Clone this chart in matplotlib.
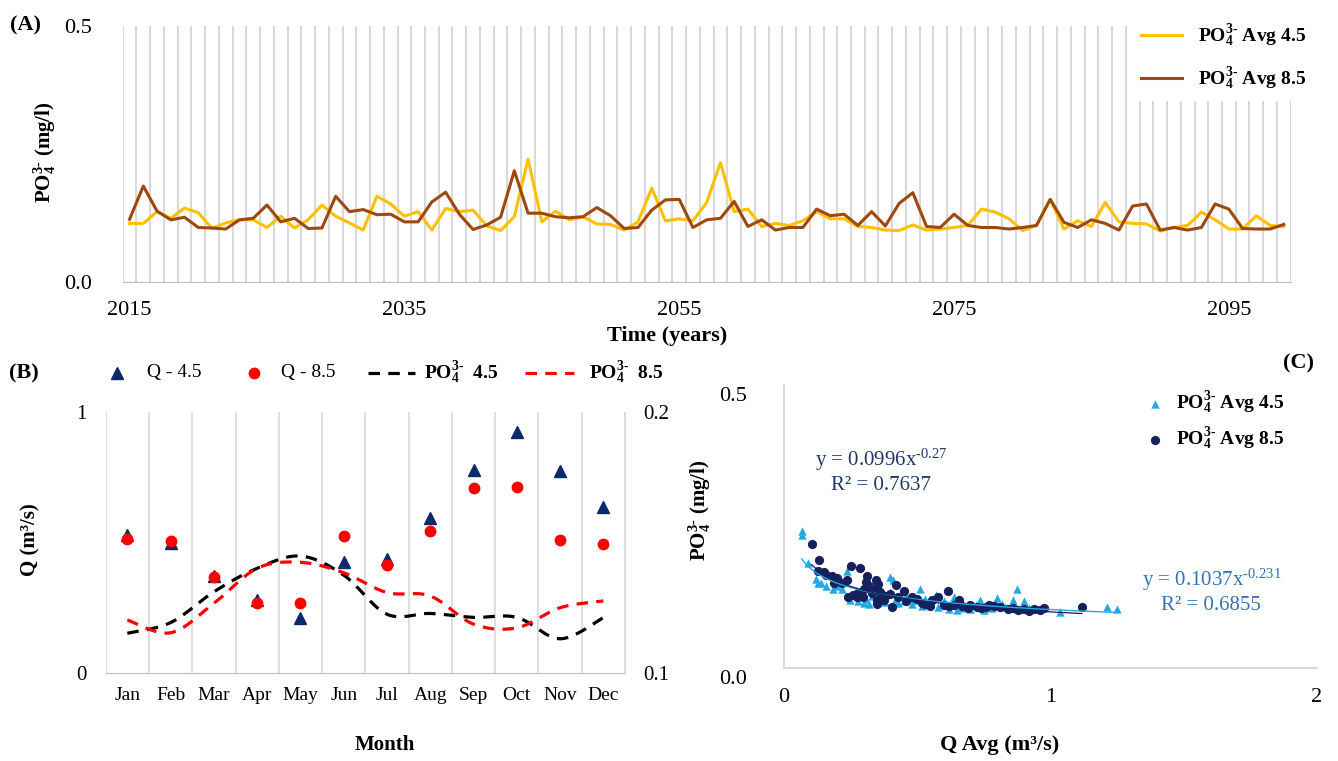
import numpy as np
import matplotlib
matplotlib.use("Agg")
import matplotlib.pyplot as plt
from matplotlib.lines import Line2D
from matplotlib.transforms import ScaledTranslation

plt.rcParams['font.family'] = ['Liberation Serif', 'DejaVu Serif']
plt.rcParams['mathtext.fontset'] = 'custom'
plt.rcParams['mathtext.rm'] = 'Liberation Serif'
plt.rcParams['mathtext.it'] = 'Liberation Serif:italic'
plt.rcParams['mathtext.bf'] = 'Liberation Serif:bold'

# ---------------- data ----------------
years = list(range(2015, 2100))
po4_avg_45 = [0.114, 0.114, 0.137, 0.124, 0.144, 0.135, 0.104, 0.115, 0.121, 0.121,
              0.106, 0.128, 0.105, 0.121, 0.150, 0.128, 0.115, 0.101, 0.167, 0.152,
              0.128, 0.137, 0.101, 0.143, 0.137, 0.140, 0.109, 0.100, 0.127, 0.240,
              0.117, 0.138, 0.121, 0.127, 0.113, 0.112, 0.101, 0.117, 0.183, 0.119,
              0.123, 0.119, 0.155, 0.233, 0.137, 0.142, 0.108, 0.114, 0.110, 0.119,
              0.137, 0.123, 0.123, 0.108, 0.106, 0.101, 0.100, 0.111, 0.101, 0.103,
              0.106, 0.110, 0.142, 0.136, 0.123, 0.100, 0.110, 0.161, 0.103, 0.119,
              0.108, 0.155, 0.117, 0.114, 0.113, 0.099, 0.106, 0.110, 0.136, 0.121,
              0.103, 0.103, 0.129, 0.110, 0.108]
po4_avg_85 = [0.122, 0.187, 0.138, 0.121, 0.126, 0.106, 0.105, 0.103, 0.121, 0.124,
              0.150, 0.117, 0.124, 0.104, 0.105, 0.167, 0.137, 0.141, 0.131, 0.132,
              0.117, 0.117, 0.156, 0.175, 0.132, 0.102, 0.111, 0.126, 0.217, 0.134,
              0.134, 0.127, 0.125, 0.127, 0.145, 0.129, 0.104, 0.106, 0.140, 0.160,
              0.161, 0.106, 0.121, 0.124, 0.157, 0.108, 0.121, 0.101, 0.106, 0.106,
              0.142, 0.129, 0.132, 0.110, 0.137, 0.109, 0.153, 0.174, 0.108, 0.106,
              0.132, 0.110, 0.106, 0.106, 0.103, 0.106, 0.110, 0.161, 0.116, 0.106,
              0.121, 0.114, 0.101, 0.148, 0.152, 0.101, 0.106, 0.101, 0.106, 0.152,
              0.142, 0.104, 0.103, 0.103, 0.112]

months = ['Jan', 'Feb', 'Mar', 'Apr', 'May', 'Jun', 'Jul', 'Aug', 'Sep', 'Oct', 'Nov', 'Dec']
q_45 = [0.527, 0.498, 0.372, 0.278, 0.208, 0.425, 0.434, 0.591, 0.776, 0.923, 0.774, 0.633]
q_85 = [0.511, 0.504, 0.368, 0.266, 0.268, 0.525, 0.412, 0.543, 0.706, 0.713, 0.508, 0.493]
po4_month_45 = [0.1151, 0.1192, 0.1310, 0.1400, 0.1447, 0.1374, 0.1224, 0.1227, 0.1212, 0.1212, 0.1130, 0.1211]
po4_month_85 = [0.1202, 0.1153, 0.1266, 0.1400, 0.1423, 0.1383, 0.1307, 0.1294, 0.1186, 0.1172, 0.1249, 0.1275]

q_scatter_45 = [0.068, 0.068, 0.093, 0.121, 0.142, 0.186, 0.236, 0.399, 0.410, 0.511,
                0.874, 0.800, 0.737, 0.862, 1.036, 1.211, 1.251, 0.130, 0.160, 0.250,
                0.280, 0.300, 0.320, 0.350, 0.380, 0.420, 0.450, 0.480, 0.520, 0.550,
                0.580, 0.620, 0.650, 0.680, 0.700, 0.750, 0.780, 0.830, 0.880, 0.920,
                0.950, 0.270, 0.330, 0.400, 0.460, 0.530, 0.600, 0.640, 0.720, 0.820,
                0.570, 0.900, 0.200, 0.220, 0.310, 0.430, 0.490, 0.610, 0.670, 0.760]
po4_scatter_45 = [0.243, 0.235, 0.185, 0.157, 0.150, 0.140, 0.171, 0.161, 0.155, 0.140,
                  0.140, 0.124, 0.121, 0.121, 0.100, 0.109, 0.104, 0.150, 0.145, 0.120,
                  0.118, 0.115, 0.113, 0.120, 0.117, 0.122, 0.118, 0.113, 0.110, 0.115,
                  0.108, 0.105, 0.103, 0.110, 0.104, 0.103, 0.106, 0.108, 0.105, 0.107,
                  0.104, 0.137, 0.128, 0.135, 0.128, 0.123, 0.118, 0.125, 0.112, 0.113,
                  0.130, 0.118, 0.146, 0.140, 0.122, 0.115, 0.120, 0.112, 0.107, 0.110]
q_scatter_85 = [0.105, 0.134, 0.128, 0.160, 0.180, 0.200, 0.236, 0.254, 0.285, 0.313,
                0.348, 0.243, 0.274, 0.299, 0.330, 0.350, 0.350, 0.370, 0.375, 0.405,
                0.420, 0.450, 0.480, 0.518, 0.556, 0.580, 0.618, 0.658, 0.690, 0.727,
                0.758, 0.789, 0.840, 0.902, 0.940, 0.977, 1.118, 0.300, 0.320, 0.340,
                0.360, 0.380, 0.400, 0.430, 0.460, 0.500, 0.530, 0.550, 0.600, 0.620,
                0.640, 0.670, 0.700, 0.740, 0.770, 0.810, 0.860, 0.880, 0.920, 0.960,
                0.280, 0.260, 0.190, 0.220, 0.150, 0.310, 0.355]
po4_scatter_85 = [0.219, 0.191, 0.172, 0.165, 0.163, 0.160, 0.155, 0.180, 0.177, 0.163,
                  0.155, 0.126, 0.126, 0.126, 0.133, 0.113, 0.120, 0.130, 0.120, 0.108,
                  0.147, 0.137, 0.126, 0.115, 0.121, 0.126, 0.137, 0.121, 0.107, 0.108,
                  0.108, 0.110, 0.105, 0.105, 0.105, 0.106, 0.108, 0.140, 0.145, 0.140,
                  0.135, 0.128, 0.132, 0.125, 0.118, 0.122, 0.113, 0.110, 0.112, 0.110,
                  0.112, 0.110, 0.112, 0.106, 0.112, 0.108, 0.106, 0.103, 0.102, 0.103,
                  0.133, 0.130, 0.150, 0.150, 0.170, 0.152, 0.148]
# printed trend-line equations (y = a * x^b)
trend_a_45, trend_b_45, r2_45 = 0.1037, -0.231, 0.6855
trend_a_85, trend_b_85, r2_85 = 0.0996, -0.27, 0.7637

# ---------------- styling ----------------
W, H = 1338, 761
YEL = '#FFC000'
BRN = '#9E480E'
NAVY_B = '#0B2A6B'
RED = '#FF0000'
LBLUE = '#22A8E4'
NAVY_C = '#14215C'
GRID = '#D9D9D9'
AXC = '#BFBFBF'


def rect(l, t, r, b):
    return [l / W, 1 - b / H, (r - l) / W, (b - t) / H]


def smooth_curve(xv, yv, n=24):
    p = np.column_stack([xv, yv]).astype(float)
    P = np.vstack([p[0], p, p[-1]])
    t = np.linspace(0, 1, n, endpoint=False)[:, None]
    h00 = 2 * t**3 - 3 * t**2 + 1
    h10 = t**3 - 2 * t**2 + t
    h01 = -2 * t**3 + 3 * t**2
    h11 = t**3 - t**2
    segs = []
    for i in range(1, len(P) - 2):
        p0, p1, p2, p3 = P[i - 1], P[i], P[i + 1], P[i + 2]
        m1 = (p2 - p0) / 2.0
        m2 = (p3 - p1) / 2.0
        segs.append(h00 * p1 + h10 * m1 + h01 * p2 + h11 * m2)
    segs.append(p[-1][None])
    s = np.vstack(segs)
    return s[:, 0], s[:, 1]


def eq_text(a, b):
    return r'y = %.4fx$^{\text{-}%s}$' % (a, ('%g' % abs(b)))


PO4 = r'PO$_\mathbf{4}^{\mathbf{3}\text{-}}$'

fig = plt.figure(figsize=(W / 100, H / 100), dpi=100)

# ================= Panel A =================
axA = fig.add_axes(rect(122.7, 26, 1290.7, 281.7))
xa = np.arange(len(years))
lA1, = axA.plot(xa, po4_avg_45, color=YEL, lw=2.2, label=PO4 + ' Avg 4.5')
lA2, = axA.plot(xa, po4_avg_85, color=BRN, lw=2.2, label=PO4 + ' Avg 8.5')
axA.set_xlim(-0.5, len(years) - 0.5)
axA.set_ylim(0, 0.5)
axA.set_xticks(xa[::20])
axA.set_xticklabels([str(y) for y in years[::20]], fontsize=16)
axA.set_xticks(np.arange(-0.5, len(years)), minor=True)
axA.grid(which='minor', axis='x', color=GRID, lw=1.5)
axA.set_yticks([0, 0.5])
axA.set_yticklabels(['0.0', '0.5'], fontsize=16)
axA.tick_params(which='both', length=0)
axA.tick_params(axis='x', pad=14)
axA.tick_params(axis='y', pad=22)
for s in ['top', 'right', 'left']:
    axA.spines[s].set_visible(False)
axA.spines['bottom'].set_color(AXC)
axA.set_axisbelow(True)
axA.set_xlabel('Time (years)', fontsize=16, fontweight='bold', va='center')
axA.xaxis.set_label_coords((667 - 122.7) / 1168, (281.7 - 336) / 255.7)
axA.set_ylabel(PO4 + ' (mg/l)', fontsize=15, fontweight='bold', va='center')
axA.yaxis.set_label_coords((45 - 122.7) / 1168, (281.7 - 152) / 255.7)
legA = fig.legend(handles=[lA1, lA2], loc='upper left',
                  bbox_to_anchor=(1132 / W, 1 - 14 / H), borderaxespad=0,
                  frameon=True, facecolor='white', edgecolor='none', framealpha=1,
                  prop={'weight': 'bold', 'size': 14}, handlelength=2.1,
                  handletextpad=0.85, labelspacing=0.85, borderpad=0.45)
fig.text(10 / W, 1 - 25 / H, '(A)', fontsize=16, fontweight='bold', va='center', ha='left')

# ================= Panel B =================
axB = fig.add_axes(rect(105.7, 411.7, 625, 672.7))
xm = np.arange(len(months))
axB.plot(xm, q_45, ls='none', marker='^', color=NAVY_B, ms=8, zorder=3)
axB.plot(xm, q_85, ls='none', marker='o', color=RED, ms=7.5, zorder=3)
axB.set_xlim(-0.5, len(months) - 0.5)
axB.set_ylim(0, 1)
axB.set_xticks(xm)
axB.set_xticklabels(months, fontsize=14)
axB.set_xticks(np.arange(-0.5, len(months)), minor=True)
axB.grid(which='minor', axis='x', color=GRID, lw=1.2)
axB.set_yticks([0, 1])
axB.set_yticklabels(['0', '1'], fontsize=15)
axB.tick_params(which='both', length=0)
axB.tick_params(axis='x', pad=10)
axB.tick_params(axis='y', pad=14)
for s in ['top', 'right', 'left']:
    axB.spines[s].set_visible(False)
axB.spines['bottom'].set_color(AXC)
axB.set_axisbelow(True)
axB.set_xlabel('Month', fontsize=15, fontweight='bold', va='center')
axB.xaxis.set_label_coords((385 - 105.7) / 519.3, (672.7 - 745) / 261)
axB.set_ylabel('Q (m³/s)', fontsize=15, fontweight='bold', va='center')
axB.yaxis.set_label_coords((30 - 105.7) / 519.3, (672.7 - 540) / 261)

axB2 = axB.twinx()
sx, sy = smooth_curve(xm, po4_month_45)
axB2.plot(sx, sy, color='black', lw=2.3, ls=(0, (3.6, 2.6)))
sx, sy = smooth_curve(xm, po4_month_85)
axB2.plot(sx, sy, color=RED, lw=2.3, ls=(0, (3.6, 2.6)))
axB2.set_ylim(0.1, 0.2)
axB2.set_yticks([0.1, 0.2])
axB2.set_yticklabels(['0.1', '0.2'], fontsize=15)
axB2.tick_params(length=0, pad=13)
for s in ['top', 'left', 'bottom']:
    axB2.spines[s].set_visible(False)
axB2.spines['right'].set_color(GRID)
axB2.set_xlim(-0.5, len(months) - 0.5)

# manual legend for panel B (figure pixel coordinates)
ly = 1 - 373 / H
fig.add_artist(Line2D([117 / W], [ly], marker='^', color=NAVY_B, ms=8, ls='none'))
fig.text(147 / W, ly, 'Q - 4.5', fontsize=14, va='center', ha='left')
fig.add_artist(Line2D([254 / W], [ly], marker='o', color=RED, ms=7.5, ls='none'))
fig.text(281 / W, ly, 'Q - 8.5', fontsize=14, va='center', ha='left')
fig.add_artist(Line2D([368 / W, 415 / W], [ly, ly], color='black', lw=2.3, ls=(0, (3.6, 2.6))))
fig.text(424 / W, ly, PO4 + '  4.5', fontsize=14, fontweight='bold', va='center', ha='left')
fig.add_artist(Line2D([525 / W, 574 / W], [ly, ly], color=RED, lw=2.3, ls=(0, (3.6, 2.6))))
fig.text(589 / W, ly, PO4 + '  8.5', fontsize=14, fontweight='bold', va='center', ha='left')
fig.text(9 / W, ly, '(B)', fontsize=16, fontweight='bold', va='center', ha='left')

# ================= Panel C =================
axC = fig.add_axes(rect(783.6, 385, 1317, 668.3))
sc45 = axC.scatter(q_scatter_45, po4_scatter_45, marker='^', s=36, color=LBLUE,
                   linewidths=0, zorder=2, label=PO4 + ' Avg 4.5')
sc85 = axC.scatter(q_scatter_85, po4_scatter_85, marker='o', s=44, color=NAVY_C,
                   linewidths=0, zorder=3, label=PO4 + ' Avg 8.5')
xx = np.linspace(min(q_scatter_45), max(q_scatter_45), 200)
axC.plot(xx, trend_a_45 * xx ** trend_b_45, color=LBLUE, lw=1.0, zorder=4)
xx = np.linspace(min(q_scatter_85), max(q_scatter_85), 200)
axC.plot(xx, trend_a_85 * xx ** trend_b_85, color=NAVY_C, lw=0.9, zorder=4)
axC.set_xlim(0, 2)
axC.set_ylim(0, 0.5)
axC.set_xticks([0, 1, 2])
axC.set_xticklabels(['0', '1', '2'], fontsize=16)
axC.set_yticks([0, 0.5])
axC.set_yticklabels(['0.0', '0.5'], fontsize=16)
axC.tick_params(length=0)
axC.tick_params(axis='x', pad=14)
axC.tick_params(axis='y', pad=26)
for lab in axC.get_yticklabels():
    lab.set_transform(lab.get_transform() + ScaledTranslation(0, -0.09, fig.dpi_scale_trans))
for s in ['top', 'right']:
    axC.spines[s].set_visible(False)
axC.spines['left'].set_color(GRID)
axC.spines['bottom'].set_color(GRID)
axC.spines['left'].set_linewidth(1.5)
axC.spines['bottom'].set_linewidth(1.5)
axC.set_xlabel('Q Avg (m³/s)', fontsize=16, fontweight='bold', va='center')
axC.xaxis.set_label_coords((1000 - 783.6) / 533.4, (668.3 - 745) / 283.3)
axC.set_ylabel(PO4 + ' (mg/l)', fontsize=15, fontweight='bold', va='center')
axC.yaxis.set_label_coords((700 - 783.6) / 533.4, (668.3 - 510) / 283.3)
axC.text((881 - 783.6) / 533.4, (668.3 - 460) / 283.3, eq_text(trend_a_85, trend_b_85),
         transform=axC.transAxes, fontsize=15, color='#1F3864', ha='center', va='center')
axC.text((881 - 783.6) / 533.4, (668.3 - 486) / 283.3, 'R² = %.4f' % r2_85,
         transform=axC.transAxes, fontsize=15, color='#1F3864', ha='center', va='center')
axC.text((1212 - 783.6) / 533.4, (668.3 - 580) / 283.3, eq_text(trend_a_45, trend_b_45),
         transform=axC.transAxes, fontsize=15, color='#2E75B6', ha='center', va='center')
axC.text((1211 - 783.6) / 533.4, (668.3 - 606) / 283.3, 'R² = %.4f' % r2_45,
         transform=axC.transAxes, fontsize=15, color='#2E75B6', ha='center', va='center')
fig.legend(handles=[sc45, sc85], loc='upper left', bbox_to_anchor=(1137 / W, 1 - 382 / H),
           borderaxespad=0, frameon=False, prop={'weight': 'bold', 'size': 14},
           handlelength=1.0, handletextpad=0.6, labelspacing=0.5, borderpad=0.4)
fig.text(1299 / W, 1 - 363 / H, '(C)', fontsize=16, fontweight='bold', va='center', ha='center')

fig.savefig('out.png', dpi=100)
